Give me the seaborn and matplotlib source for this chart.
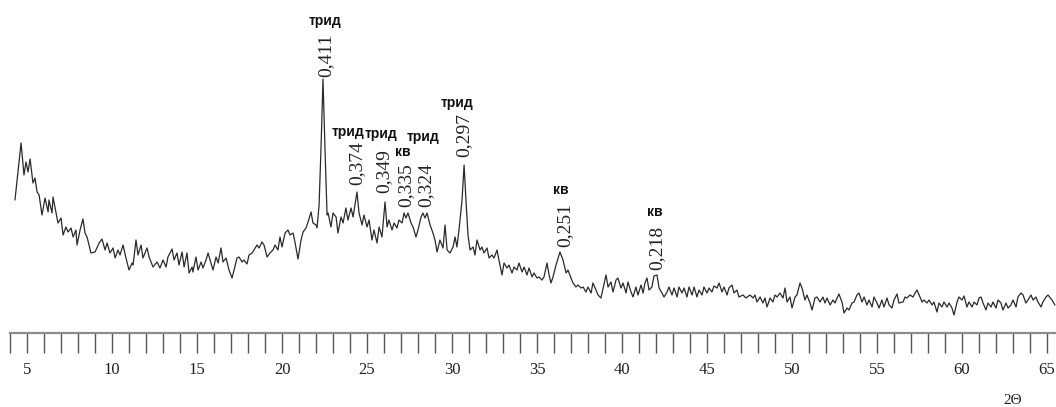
import matplotlib
matplotlib.use("Agg")
import matplotlib.pyplot as plt
from matplotlib.ticker import MultipleLocator, FuncFormatter
import seaborn as sns
import pandas as pd

# ---- data (2θ, intensity in arbitrary units) ----
two_theta = [
    4.29, 4.65, 4.82, 4.94, 5.06, 5.18, 5.35, 5.47, 5.59, 5.71, 5.88, 6.06, 6.24, 6.29, 6.47, 6.53, 6.71, 6.82,
    7.00, 7.12, 7.29, 7.41, 7.59, 7.71, 7.88, 7.94, 8.12, 8.29, 8.41, 8.53, 8.76, 9.00, 9.24, 9.41, 9.59, 9.71,
    9.88, 10.06, 10.18, 10.35, 10.47, 10.65, 10.82, 11.00, 11.18, 11.24, 11.41, 11.53, 11.71, 11.82, 12.06, 12.18,
    12.41, 12.65, 12.82, 13.00, 13.18, 13.29, 13.53, 13.65, 13.82, 13.94,
    14.12, 14.24, 14.41, 14.53, 14.71, 14.76, 14.94, 15.06, 15.24, 15.35,
    15.53, 15.65, 15.82, 15.94, 16.12, 16.24, 16.41, 16.53, 16.71, 16.88,
    17.06, 17.18, 17.35, 17.47, 17.65, 17.76, 17.94, 18.06, 18.24, 18.35,
    18.53, 18.65, 18.82, 18.94, 19.12, 19.29, 19.47, 19.59, 19.76, 19.88,
    20.00, 20.18, 20.35, 20.47, 20.65, 20.76, 20.94, 21.12, 21.24, 21.41,
    21.53, 21.71, 21.82, 22.00, 22.06, 22.18, 22.29, 22.41, 22.53, 22.65,
    22.71, 22.88, 23.00, 23.18, 23.29, 23.47, 23.59, 23.76, 23.88, 24.06,
    24.18, 24.41, 24.53, 24.71, 24.82, 25.00, 25.12, 25.29, 25.41, 25.59,
    25.71, 25.88, 26.06, 26.18, 26.29, 26.47, 26.59, 26.76, 26.88, 27.06,
    27.18, 27.29, 27.41, 27.59, 27.71, 27.88, 28.00, 28.18, 28.29, 28.41,
    28.53, 28.71, 28.88, 29.00, 29.12, 29.29, 29.47, 29.59, 29.71, 29.88,
    30.06, 30.18, 30.29, 30.41,
    30.59, 30.71, 30.82, 30.94, 31.06, 31.24, 31.35, 31.47, 31.65, 31.76,
    31.88, 32.06, 32.18, 32.35, 32.47, 32.65, 32.76, 32.94, 33.06, 33.24,
    33.35, 33.53, 33.65, 33.82, 33.94, 34.12, 34.24, 34.41, 34.53, 34.71,
    34.82, 35.00, 35.12, 35.29, 35.41, 35.59, 35.71, 35.82, 35.94, 36.12,
    36.35, 36.53, 36.71, 36.82, 37.00, 37.12, 37.29, 37.41, 37.59, 37.71,
    37.88, 38.00, 38.18, 38.29, 38.47, 38.59, 38.76,
    39.06, 39.18, 39.35, 39.47, 39.65, 39.76, 39.94, 40.06, 40.24, 40.35,
    40.53, 40.65, 40.82, 40.94, 41.12, 41.24, 41.35, 41.47, 41.59, 41.76,
    41.88, 42.06, 42.18, 42.35, 42.47, 42.65, 42.76, 42.94, 43.06, 43.24,
    43.35, 43.53, 43.65, 43.82, 43.94, 44.12, 44.24, 44.41, 44.53, 44.71,
    44.82, 45.00, 45.12, 45.29, 45.41, 45.59, 45.71, 45.88, 46.00, 46.18,
    46.29, 46.47, 46.59, 46.76, 46.88, 47.12, 47.29,
    47.53, 47.71, 47.82, 47.94, 48.12, 48.29, 48.41, 48.53, 48.71, 48.88,
    49.00, 49.12, 49.29, 49.47, 49.59, 49.71, 49.88, 50.00, 50.18, 50.29,
    50.47, 50.59, 50.76, 50.88, 51.06, 51.18, 51.35, 51.47, 51.65, 51.82,
    51.94, 52.06, 52.24, 52.41, 52.53, 52.65, 52.76, 52.94, 53.06, 53.24,
    53.35, 53.53, 53.65, 53.82, 53.94, 54.12, 54.24, 54.41, 54.53, 54.71,
    54.82, 55.00, 55.12, 55.29, 55.41, 55.59, 55.71, 55.88, 56.00, 56.18,
    56.29,
    56.53, 56.65, 56.76, 56.94, 57.12, 57.24, 57.35, 57.53, 57.65, 57.76,
    57.94, 58.06, 58.24, 58.35, 58.53, 58.65, 58.82, 58.94, 59.12, 59.24,
    59.41, 59.53, 59.71, 59.82, 60.00, 60.12, 60.29, 60.41, 60.59, 60.71,
    60.88, 61.00, 61.12, 61.24, 61.41, 61.53, 61.71, 61.82, 62.00, 62.12,
    62.29, 62.41, 62.59, 62.71, 62.88, 63.00, 63.18, 63.29, 63.47, 63.59,
    63.76, 63.88, 64.06, 64.18, 64.35, 64.47, 64.65, 64.76, 64.94, 65.06,
    65.29, 65.47,
]

intensity = [
    140, 197, 165, 178, 168, 181, 157, 162, 148, 145, 125, 142, 128, 140, 127, 143, 127, 117,
    122, 105, 113, 108, 112, 103, 110, 95, 110, 121, 107, 103, 87, 88, 97, 101, 90, 97,
    87, 92, 82, 90, 85, 95, 82, 70, 77, 75, 100, 85, 95, 82, 92, 83,
    73, 78, 72, 80, 73, 83, 91, 80, 87, 75,
    88, 73, 87, 67, 73, 68, 83, 70, 78, 72,
    80, 87, 77, 70, 83, 77, 92, 78, 82, 70,
    62, 70, 82, 83, 78, 80, 76, 85, 87, 90,
    95, 92, 98, 95, 83, 87, 90, 95, 90, 103,
    93, 107, 110, 105, 107, 98, 81, 100, 108, 112,
    118, 128, 117, 115, 112, 135, 190, 261, 190, 125,
    127, 113, 127, 123, 107, 123, 117, 132, 120, 132,
    123, 148, 127, 115, 125, 113, 120, 100, 110, 97,
    113, 103, 138, 113, 120, 110, 117, 112, 120, 117,
    127, 122, 127, 117, 113, 103, 110, 123, 127, 122,
    127, 115, 107, 100, 88, 100, 92, 115, 90, 87,
    93, 103, 93, 110,
    140, 175, 140, 105, 90, 93, 85, 100, 90, 93,
    87, 92, 82, 85, 82, 90, 80, 65, 77, 72,
    75, 67, 73, 70, 77, 68, 73, 65, 72, 63,
    67, 62, 63, 60, 63, 77, 65, 57, 63, 75,
    88, 80, 67, 70, 62, 57, 53, 55, 52, 53,
    48, 53, 47, 57, 50, 45, 42,
    65, 53, 58, 48, 60, 62, 52, 57, 47, 58,
    48, 43, 53, 45, 55, 47, 57, 62, 50, 53,
    64, 65, 52, 47, 43, 48, 53, 45, 52, 43,
    53, 47, 52, 43, 53, 45, 53, 43, 50, 45,
    53, 47, 52, 48, 54, 52, 57, 48, 53, 45,
    52, 55, 47, 50, 43, 45, 42,
    45, 42, 45, 38, 43, 37, 42, 33, 42, 38,
    45, 43, 47, 42, 52, 38, 43, 32, 43, 45,
    57, 52, 40, 45, 37, 30, 42, 43, 38, 43,
    37, 42, 35, 40, 37, 42, 46, 38, 27, 32,
    30, 37, 38, 45, 47, 38, 43, 35, 40, 33,
    43, 37, 32, 40, 33, 42, 35, 32, 40, 46,
    37,
    38, 43, 42, 45, 43, 47, 50, 43, 38, 40,
    37, 40, 35, 38, 28, 37, 33, 38, 33, 37,
    32, 25, 38, 43, 40, 44, 33, 38, 33, 38,
    35, 42, 43, 37, 30, 37, 33, 38, 32, 40,
    37, 30, 37, 32, 35, 40, 33, 43, 47, 45,
    37, 40, 45, 40, 43, 38, 33, 38, 43, 45,
    40, 35,
]
assert len(two_theta) == len(intensity)

# peaks: position, intensity, d-spacing label (nm), phase
peak_theta = [22.41, 24.41, 26.06, 27.18, 28.29, 30.71, 36.35, 42.06]
peak_int = [261, 148, 138, 127, 127, 175, 88, 65]
d_labels = ["0,411", "0,374", "0,349", "0,335", "0,324", "0,297", "0,251", "0,218"]
phases = ["трид", "трид", "трид", "кв", "трид", "трид", "кв", "кв"]

major_labels = [5, 10, 15, 20, 25, 30, 35, 40, 45, 50, 55, 60, 65]

# ---- layout / style ----
num_offsets = [(3, 2), (0, 7), (-1, 9), (2, 6), (3, 6), (0, 8), (5, 5), (0, 5)]
phase_offsets = [(2, 58), (-9, 60), (-4, 68), (-1, 61), (0, 76), (-7, 62), (1, 62), (-2, 63)]

sns.set_theme(style="white")
plt.rcParams["font.family"] = ["Liberation Serif", "DejaVu Serif"]

fig = plt.figure(figsize=(10.56, 4.07), dpi=100)
ax = fig.add_axes([0, 0, 1, 1])
ax.set_facecolor("white")

df = pd.DataFrame({"two_theta": two_theta, "intensity": intensity})
sns.lineplot(data=df, x="two_theta", y="intensity", ax=ax, color="#2a2a2a",
             linewidth=0.9, estimator=None, sort=False)

ax.set_xlim(3.41, 65.53)
ax.set_ylim(-67, 340)

for s in ["top", "left", "right"]:
    ax.spines[s].set_visible(False)
ax.spines["bottom"].set_position(("data", 7))
ax.spines["bottom"].set_bounds(4.0, 65.53)
ax.spines["bottom"].set_color("#8c8c8c")
ax.spines["bottom"].set_linewidth(1.6)

ax.xaxis.set_major_locator(MultipleLocator(1))
ax.xaxis.set_major_formatter(FuncFormatter(
    lambda v, p: str(int(round(v))) if int(round(v)) in major_labels else ""))
ax.tick_params(axis="x", direction="out", length=14.4, width=1.0, color="#555555",
               pad=6.5, labelsize=12, labelcolor="#222222", bottom=True)
ax.set_yticks([])
ax.set_xlabel("")
ax.set_ylabel("")

for t, i, d, ph, no, po in zip(peak_theta, peak_int, d_labels, phases, num_offsets, phase_offsets):
    ax.annotate(d, xy=(t, i), xytext=no, textcoords="offset pixels",
                rotation=90, ha="center", va="bottom", fontsize=14,
                color="#222222", family=["Liberation Serif", "DejaVu Serif"])
    ax.annotate(ph, xy=(t, i), xytext=po, textcoords="offset pixels",
                ha="center", va="center", fontsize=10, fontweight="bold",
                color="#111111", family=["Liberation Sans", "DejaVu Sans"])

ax.text(1013 / 1056, 6 / 407, "2Θ", transform=ax.transAxes, ha="center", va="center",
        fontsize=11, color="#222222", family=["Liberation Serif", "DejaVu Serif"])

fig.savefig("out.png", dpi=100, facecolor="white")
